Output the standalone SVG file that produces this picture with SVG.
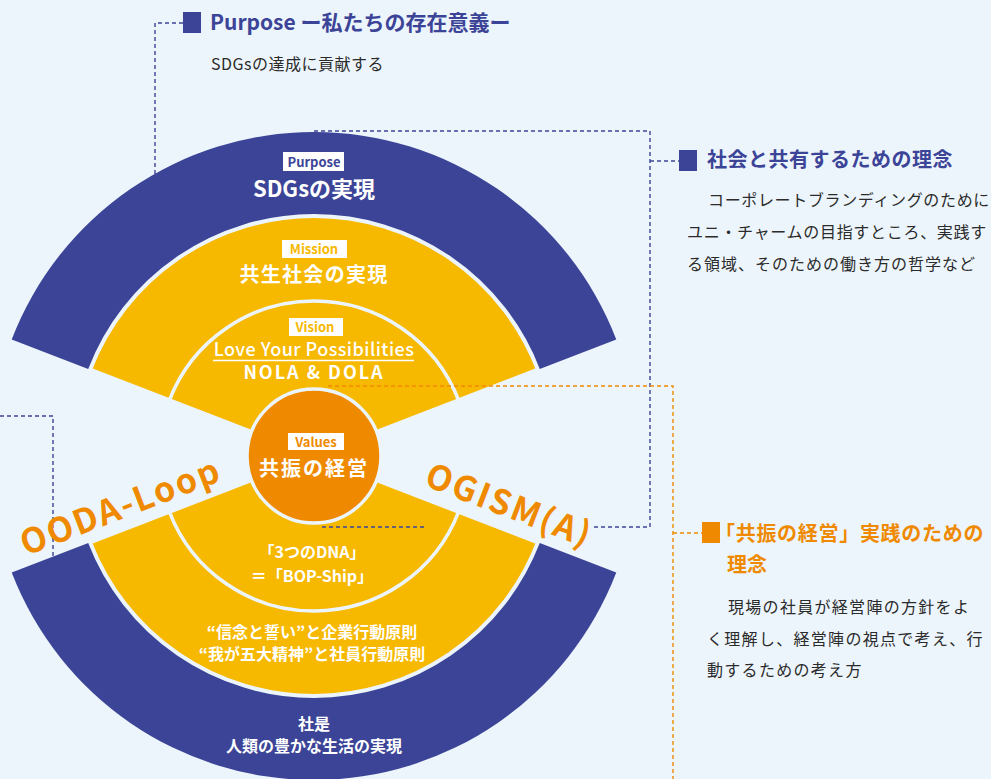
<svg xmlns="http://www.w3.org/2000/svg" width="991" height="779" viewBox="0 0 991 779">
<style>
.bg{fill:#edf5fc}
.pur{fill:#3c4497}
.yel{fill:#f7b800;stroke:#edf5fc;stroke-width:4}
.ring{fill:none;stroke:#edf5fc;stroke-width:3.5}
.t{font-family:"Noto Sans CJK JP","Noto Sans",sans-serif}
.wb{fill:#fff;font-weight:bold;text-anchor:middle}
.lbl{font-size:13px;font-weight:bold;text-anchor:middle}
.dB{fill:none;stroke:#3c4497;stroke-width:1.4;stroke-dasharray:4 3}
.dO{fill:none;stroke:#ef8a00;stroke-width:1.4;stroke-dasharray:4 3}
.body{font-size:16px;fill:#2b2b2b}
.big{font-size:34px;font-weight:bold;fill:#ef8a00;letter-spacing:2px}
</style>
<rect class="bg" x="0" y="0" width="991" height="779"/>

<g id="upper-fan">
<path class="pur" d="M314,456 L11.7,339.4 A324,324 0 0 1 616.3,339.4 Z"/>
<path class="yel" d="M314,456 L90.1,369.6 A240,240 0 0 1 537.9,369.6 Z"/>
<path class="ring" d="M169.4,400.2 A155,155 0 0 1 458.6,400.2"/>
</g>
<g id="lower-fan">
<path class="pur" d="M314,456 L11.7,572.6 A324,324 0 0 0 616.3,572.6 Z"/>
<path class="yel" d="M314,456 L90.1,542.4 A240,240 0 0 0 537.9,542.4 Z"/>
<path class="ring" d="M169.4,511.8 A155,155 0 0 0 458.6,511.8"/>
</g>

<g id="connectors">
<path class="dB" d="M183,23 H155 V175"/>
<path class="dB" d="M314,131 H650 V527 H592"/>
<path class="dB" d="M322,527 H425"/>
<path class="dB" d="M650,161 H679"/>
<path class="dB" d="M0,416 H53 V557"/>
<path class="dO" d="M328,386 H673 V779"/>
<path class="dO" d="M673,533 H702"/>
</g>

<g id="purpose">
<rect x="283" y="152" width="61" height="19" fill="#fff"/>
<text class="t lbl" x="314" y="167" fill="#3c4497">Purpose</text>
<text class="t wb" x="314" y="197" font-size="22">SDGsの実現</text>
</g>
<g id="mission">
<rect x="282" y="240" width="65" height="18" fill="#fff"/>
<text class="t lbl" x="314" y="254" fill="#f7b800">Mission</text>
<text class="t wb" x="314" y="282" font-size="20" letter-spacing="1.3">共生社会の実現</text>
</g>
<g id="vision">
<rect x="289" y="318" width="54" height="18" fill="#fff"/>
<text class="t lbl" x="315" y="332" fill="#f7b800">Vision</text>
<text class="t" x="314" y="356" font-size="18" fill="#fff" text-anchor="middle" font-weight="500" letter-spacing="0.45">Love Your Possibilities</text>
<line x1="213" y1="360.5" x2="414" y2="360.5" stroke="#fff" stroke-width="1.5"/>
<text class="t wb" x="314" y="379" font-size="18" letter-spacing="2">NOLA &amp; DOLA</text>
</g>
<g id="values">
<circle cx="314" cy="456" r="67" fill="#ef8a00" stroke="#edf5fc" stroke-width="3.5"/>
<rect x="288" y="433" width="56" height="17" fill="#fff"/>
<text class="t lbl" x="316" y="447" fill="#ef8a00">Values</text>
<text class="t wb" x="314" y="476" font-size="20" letter-spacing="2">共振の経営</text>
</g>
<g id="dna">
<text class="t wb" x="312" y="558" font-size="16">「3つのDNA」</text>
<text class="t wb" x="312" y="582" font-size="16">＝「BOP-Ship」</text>
</g>
<g id="principles">
<text class="t wb" x="312" y="638" font-size="16">“信念と誓い”と企業行動原則</text>
<text class="t wb" x="312" y="660" font-size="16">“我が五大精神”と社員行動原則</text>
</g>
<g id="shaze">
<text class="t wb" x="314" y="730" font-size="16">社是</text>
<text class="t wb" x="314" y="752" font-size="16">人類の豊かな生活の実現</text>
</g>

<g id="ooda">
<text class="t big" transform="translate(26,556) rotate(-21.1)">OODA-Loop</text>
</g>
<g id="ogism">
<text class="t big" transform="translate(423,485) rotate(21.1)" letter-spacing="1.5">OGISM(A)</text>
</g>

<g id="purpose-note">
<rect x="183" y="12" width="18" height="21" class="pur"/>
<text class="t" x="210" y="30" font-size="21" font-weight="bold" fill="#3c4497">Purpose ー私たちの存在意義ー</text>
<text class="t body" x="211" y="70" font-size="17" letter-spacing="0.5">SDGsの達成に貢献する</text>
</g>
<g id="society-note">
<rect x="679" y="150" width="18" height="21" class="pur"/>
<text class="t" x="707" y="167" font-size="20" font-weight="bold" fill="#3c4497" letter-spacing="0.5">社会と共有するための理念</text>
<text class="t body" x="708" y="206" letter-spacing="0.65">コーポレートブランディングのために</text>
<text class="t body" x="687" y="238" letter-spacing="0.7">ユニ・チャームの目指すところ、実践す</text>
<text class="t body" x="687" y="270" letter-spacing="1">る領域、そのための働き方の哲学など</text>
</g>
<g id="practice-note">
<rect x="702" y="522" width="18" height="21" fill="#ef8a00"/>
<text class="t" x="715" y="541" font-size="20" font-weight="bold" fill="#ef8a00" letter-spacing="0.7">「共振の経営」実践のための</text>
<text class="t" x="727" y="572" font-size="20" font-weight="bold" fill="#ef8a00">理念</text>
<text class="t body" x="728" y="613" font-size="17" letter-spacing="1.3">現場の社員が経営陣の方針をよ</text>
<text class="t body" x="707" y="645" font-size="17" letter-spacing="1.3">く理解し、経営陣の視点で考え、行</text>
<text class="t body" x="707" y="676" font-size="17" letter-spacing="1.3">動するための考え方</text>
</g>
</svg>
